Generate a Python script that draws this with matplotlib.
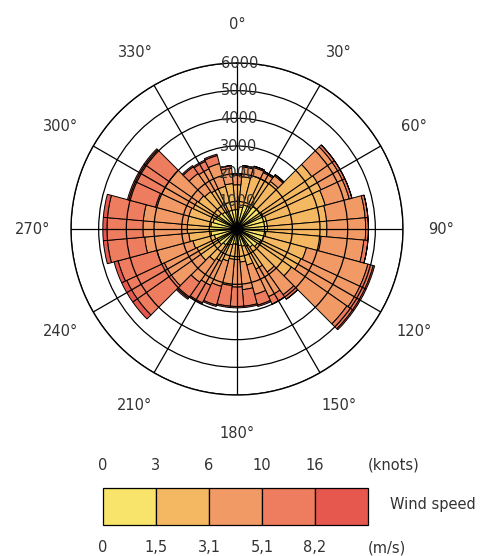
import numpy as np
import matplotlib
matplotlib.use("Agg")
import matplotlib.pyplot as plt

# ---- data ----
directions = list(range(0, 360, 10))  # sector centres (deg)
speed_1 = [700, 800, 900, 900, 1000, 1000, 1050, 1100, 1100, 1100, 1050, 1000,
           950, 900, 800, 700, 650, 600, 550, 550, 600, 650, 700, 800,
           800, 850, 950, 1000, 950, 900, 850, 800, 750, 700, 700, 700]
speed_2 = [900, 1100, 1100, 1100, 1100, 2300, 2300, 2200, 2150, 2150, 2000, 1600,
           1600, 1500, 1100, 900, 700, 600, 550, 550, 600, 650, 700, 800,
           800, 800, 800, 800, 850, 900, 900, 900, 900, 900, 900, 950]
speed_3 = [350, 350, 300, 250, 250, 900, 850, 900, 1400, 1400, 1550, 2300,
           2350, 2450, 1000, 1100, 1100, 1000, 1000, 950, 950, 950, 950, 1300,
           1300, 1350, 1600, 1600, 1600, 1250, 1250, 1300, 800, 800, 850, 550]
speed_4 = [50, 50, 50, 50, 50, 100, 100, 100, 100, 100, 150, 200,
           200, 250, 200, 300, 400, 600, 700, 750, 700, 700, 700, 1500,
           1500, 1450, 1350, 1300, 1300, 1000, 1050, 1050, 300, 300, 300, 100]
speed_5 = [0, 0, 0, 0, 0, 0, 0, 0, 0, 0, 0, 50,
           50, 50, 0, 0, 50, 50, 50, 50, 50, 50, 50, 200,
           200, 150, 150, 150, 150, 50, 50, 50, 50, 50, 50, 0]
class_colors = ["#F8E46A", "#F5B862", "#F19A66", "#EE7C5E", "#E6574E"]
knots_labels = ["0", "3", "6", "10", "16"]
ms_labels = ["0", "1,5", "3,1", "5,1", "8,2"]
ring_values = [1000, 2000, 3000, 4000, 5000, 6000]
angle_ticks = list(range(0, 360, 30))

W, H = 502, 556
fig = plt.figure(figsize=(W / 100, H / 100), dpi=100)
fig.patch.set_facecolor("white")

cx, cy, R = 237, 229, 166
ax = fig.add_axes([(cx - R) / W, (H - cy - R) / H, 2 * R / W, 2 * R / H],
                  projection="polar")
ax.set_theta_zero_location("N")
ax.set_theta_direction(-1)
ax.set_facecolor("white")

theta = np.deg2rad(directions)
width = np.deg2rad(10)
bottom = np.zeros(len(directions))
for vals, col in zip([speed_1, speed_2, speed_3, speed_4, speed_5], class_colors):
    v = np.array(vals, dtype=float)
    ax.bar(theta, v, width=width, bottom=bottom, color=col,
           edgecolor="black", linewidth=0.7, align="center", zorder=1)
    bottom += v

ax.set_ylim(0, 6000)
ax.set_rgrids(ring_values, labels=[""] * len(ring_values))
ax.set_thetagrids(angle_ticks, labels=[""] * len(angle_ticks))
ax.set_axisbelow(False)
ax.xaxis.grid(True, color="black", linewidth=0.9)
ax.yaxis.grid(True, color="black", linewidth=0.9)
ax.spines["polar"].set_color("black")
ax.spines["polar"].set_linewidth(1.0)
ax.tick_params(length=0)

txt_col = "#333333"
for a in angle_ticks:
    ax.text(np.deg2rad(a), 6000 * 1.23, f"{a}°", ha="center", va="center",
            fontsize=10.5, color=txt_col, clip_on=False)
for r in ring_values:
    ax.text(np.deg2rad(1), r, str(r), ha="center", va="center",
            fontsize=10.5, color=txt_col, zorder=5)

# ---- legend ----
lx0, lx1, ly0, ly1 = 103, 368, 488, 525
lax = fig.add_axes([lx0 / W, (H - ly1) / H, (lx1 - lx0) / W, (ly1 - ly0) / H])
lax.set_xlim(0, 5)
lax.set_ylim(0, 1)
lax.axis("off")
lax.bar(np.arange(5) + 0.5, [1] * 5, width=1.0, color=class_colors,
        edgecolor="black", linewidth=0.9, clip_on=False)
hpx = ly1 - ly0
for i in range(5):
    lax.text(i, (ly1 - 465) / hpx, knots_labels[i], ha="center", va="center",
             fontsize=10.5, color=txt_col, clip_on=False)
    lax.text(i, (ly1 - 548) / hpx, ms_labels[i], ha="center", va="center",
             fontsize=10.5, color=txt_col, clip_on=False)
lax.text(5.0, (ly1 - 465) / hpx, "(knots)", ha="left", va="center",
         fontsize=10.5, color=txt_col, clip_on=False)
lax.text(5.0, (ly1 - 548) / hpx, "(m/s)", ha="left", va="center",
         fontsize=10.5, color=txt_col, clip_on=False)
lax.text(5 * (390 - lx0) / (lx1 - lx0), (ly1 - 505) / hpx, "Wind speed",
         ha="left", va="center", fontsize=10.5, color=txt_col, clip_on=False)

fig.savefig("out.png", dpi=100, facecolor="white")
